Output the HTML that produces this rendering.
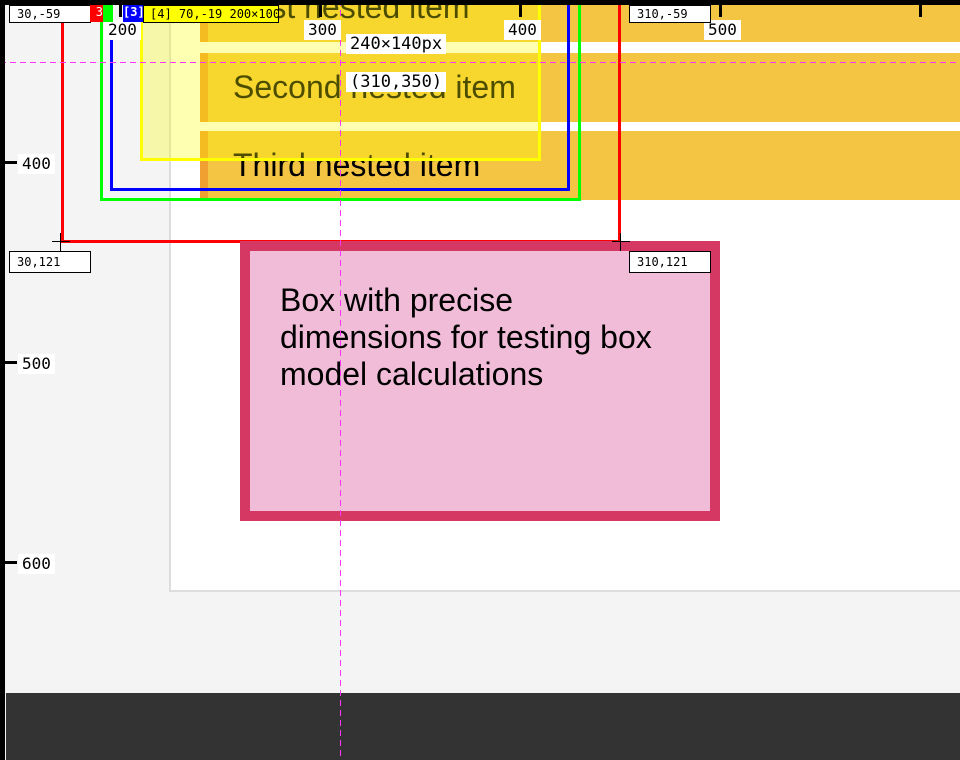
<!DOCTYPE html>
<html><head><meta charset="utf-8"><style>
*{margin:0;padding:0;box-sizing:border-box}
body{width:960px;height:760px;overflow:hidden;position:relative;background:#f4f4f4;font-family:"Liberation Sans",sans-serif}
.a{position:absolute}
.mono{font-family:"DejaVu Sans Mono","Liberation Mono",monospace}
.item{position:absolute;left:200px;width:760px;background:#f4c443;border-left:8px solid #f0a030}
.it{position:absolute;left:233px;font-size:32px;color:#000;white-space:nowrap;line-height:37px}
.lbl{position:absolute;background:#fff;font-size:16px;padding:0 4px;line-height:20px}
.tag{position:absolute;background:#fff;border:1px solid #000;font-size:12px;line-height:16px;padding-left:7px}
</style></head><body>
<div class="a" style="left:169px;top:-2px;width:800px;height:594px;background:#fff;border:2px solid #ddd"></div>
<div class="item" style="top:-10px;height:52px"></div>
<div class="item" style="top:53px;height:69px"></div>
<div class="item" style="top:131px;height:69px"></div>
<div class="it" style="top:-11px">First nested item</div>
<div class="it" style="top:69px">Second nested item</div>
<div class="it" style="top:147px">Third nested item</div>
<div class="a" style="left:140px;top:-10px;width:401px;height:171px;background:rgba(255,255,0,0.3);border:3px solid #ffff00"></div>
<div class="a" style="left:110px;top:-10px;width:460px;height:201px;border:3px solid #0000ff"></div>
<div class="a" style="left:100px;top:-10px;width:481px;height:211px;border:3px solid #00ff00"></div>
<div class="a" style="left:61px;top:-10px;width:560px;height:253px;border:3px solid #ff0000"></div>
<div class="a" style="left:240px;top:241px;width:480px;height:280px;background:#f0bcd8;border:10px solid #d63864"></div>
<div class="a" style="left:280px;top:282px;font-size:32px;line-height:37px;color:#000">Box with precise<br>dimensions for testing box<br>model calculations</div>
<div class="a" style="left:6px;top:693px;width:954px;height:67px;background:#333"></div>
<div class="a" style="left:340px;top:0;width:1px;height:760px;background:repeating-linear-gradient(to bottom,#ff33ff 0 6px,transparent 6px 10px)"></div>
<div class="a" style="left:0;top:62px;width:960px;height:1px;background:repeating-linear-gradient(to right,#ff33ff 0 6px,transparent 6px 10px)"></div>
<div class="a" style="left:0;top:0;width:960px;height:5px;background:#000"></div>
<div class="a" style="left:0;top:0;width:5px;height:760px;background:#000"></div>
<div class="a" style="left:119px;top:0;width:3px;height:17px;background:#000"></div>
<div class="a" style="left:319px;top:0;width:3px;height:17px;background:#000"></div>
<div class="a" style="left:519px;top:0;width:3px;height:17px;background:#000"></div>
<div class="a" style="left:719px;top:0;width:3px;height:17px;background:#000"></div>
<div class="a" style="left:919px;top:0;width:3px;height:17px;background:#000"></div>
<div class="a" style="left:0;top:161px;width:17px;height:3px;background:#000"></div>
<div class="a" style="left:0;top:361px;width:17px;height:3px;background:#000"></div>
<div class="a" style="left:0;top:561px;width:17px;height:3px;background:#000"></div>
<div class="lbl mono" style="left:104px;top:20px">200</div>
<div class="lbl mono" style="left:304px;top:20px">300</div>
<div class="lbl mono" style="left:504px;top:20px">400</div>
<div class="lbl mono" style="left:704px;top:20px">500</div>
<div class="lbl mono" style="left:18px;top:154px">400</div>
<div class="lbl mono" style="left:18px;top:354px">500</div>
<div class="lbl mono" style="left:18px;top:554px">600</div>
<div class="lbl mono" style="left:346px;top:34px;font-size:17px">240×140px</div>
<div class="lbl mono" style="left:346px;top:72px;font-size:17px">(310,350)</div>
<div class="tag mono" style="left:9px;top:5px;width:82px;height:18px">30,-59</div>
<div class="a mono" style="left:90px;top:5px;width:13px;height:17px;background:#f00;color:#fff;font-size:12px;text-align:right">3</div>
<div class="a" style="left:103px;top:5px;width:10px;height:17px;background:#0f0"></div>
<div class="a mono" style="left:123px;top:5px;width:20px;height:17px;background:#00f;color:#fff;font-size:12px;font-weight:bold">[3]</div>
<div class="a mono" style="left:143px;top:5px;width:136px;height:18px;background:#ff0;border:1px solid #000;font-size:12px;padding-left:6px;line-height:16px;white-space:nowrap;overflow:hidden">[4] 70,-19 200×100</div>
<div class="tag mono" style="left:629px;top:5px;width:82px;height:18px">310,-59</div>
<div class="tag mono" style="left:9px;top:251px;width:82px;height:22px;line-height:20px">30,121</div>
<div class="tag mono" style="left:629px;top:251px;width:82px;height:22px;line-height:20px">310,121</div>
<div class="a" style="left:52px;top:241px;width:18px;height:1px;background:#000"></div>
<div class="a" style="left:60px;top:233px;width:1px;height:18px;background:#000"></div>
<div class="a" style="left:612px;top:241px;width:18px;height:1px;background:#000"></div>
<div class="a" style="left:620px;top:233px;width:1px;height:18px;background:#000"></div>
</body></html>
